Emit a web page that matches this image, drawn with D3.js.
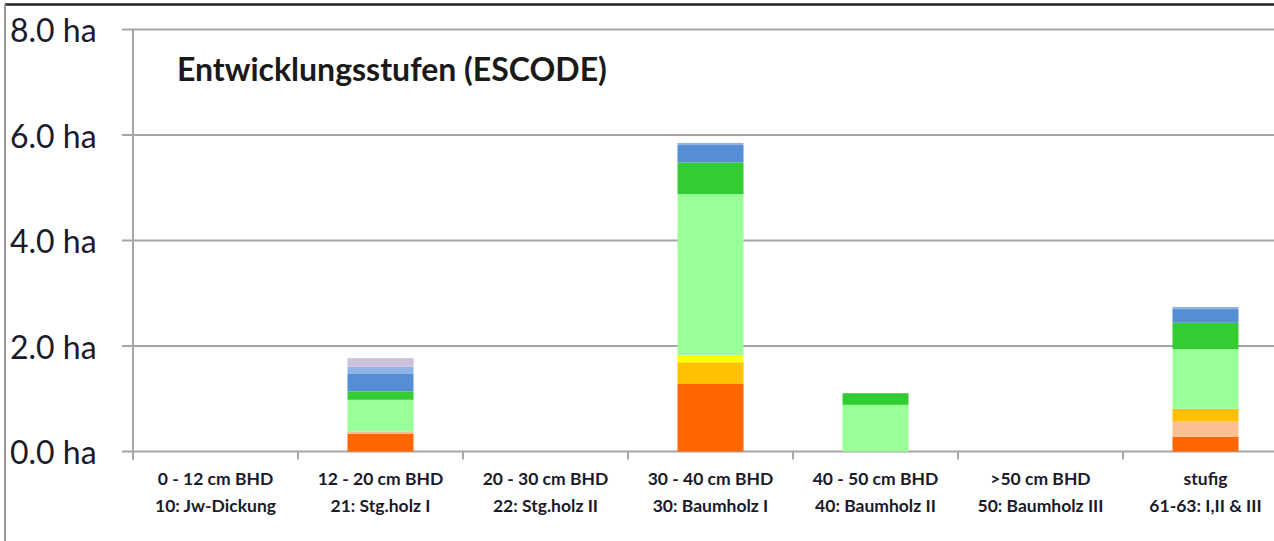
<!DOCTYPE html>
<html>
<head>
<meta charset="utf-8">
<script src="https://cdn.jsdelivr.net/npm/d3@7"></script>
<style>
  html, body { margin: 0; padding: 0; background: #fff; }
  svg { display: block; }
</style>
</head>
<body>
<svg id="chart" width="1274" height="541"></svg>
<script>
// ---- data ----
const categories = ["c10", "c21", "c22", "c30", "c40", "c50", "c61"];
const labelLine1 = ["0 - 12 cm BHD", "12 - 20 cm BHD", "20 - 30 cm BHD", "30 - 40 cm BHD", "40 - 50 cm BHD", ">50 cm BHD", "stufig"];
const labelLine2 = ["10: Jw-Dickung", "21: Stg.holz I", "22: Stg.holz II", "30: Baumholz I", "40: Baumholz II", "50: Baumholz III", "61-63: I,II & III"];
const seriesNames = ["S1", "S2", "S3", "S4", "S5", "S6", "S7", "S8", "S9"];
const seriesColors = ["#FF6600", "#FBBF94", "#FFC000", "#FFFF00", "#99FF99", "#33CC33", "#558ED5", "#8EB4E3", "#CCC0DA"];
const s1 = [0, 0.34, 0, 1.28, 0, 0, 0.28];
const s2 = [0, 0.04, 0, 0, 0, 0, 0.29];
const s3 = [0, 0, 0, 0.41, 0, 0, 0.24];
const s4 = [0, 0, 0, 0.14, 0, 0, 0];
const s5 = [0, 0.60, 0, 3.05, 0.885, 0, 1.13];
const s6 = [0, 0.16, 0, 0.60, 0.22, 0, 0.50];
const s7 = [0, 0.33, 0, 0.33, 0, 0, 0.26];
const s8 = [0, 0.14, 0, 0.04, 0, 0, 0.04];
const s9 = [0, 0.16, 0, 0, 0, 0, 0];
const yTicks = [0, 2, 4, 6, 8];
const title = "Entwicklungsstufen (ESCODE)";

const seriesValues = [s1, s2, s3, s4, s5, s6, s7, s8, s9];
const table = categories.map((c, i) => {
  const row = { cat: c };
  seriesNames.forEach((s, j) => row[s] = seriesValues[j][i]);
  return row;
});

const svg = d3.select("#chart");
const plotLeft = 133, plotTop = 29.5, plotBottom = 451.5;
const step = 165;

const x = d3.scaleBand().domain(categories).range([plotLeft, plotLeft + step * categories.length]).padding(0);
const y = d3.scaleLinear().domain([0, 8]).range([plotBottom, plotTop]);

// frame
svg.append("line").attr("x1", 5).attr("x2", 1274).attr("y1", 4.5).attr("y2", 4.5)
  .attr("stroke", "#222").attr("stroke-width", 2.5);
svg.append("line").attr("x1", 5).attr("x2", 5).attr("y1", 4).attr("y2", 541)
  .attr("stroke", "#9a9a9a").attr("stroke-width", 2);

// gridlines + y tick marks
svg.append("g").selectAll("line").data(yTicks).join("line")
  .attr("x1", plotLeft - 11).attr("x2", 1274)
  .attr("y1", d => y(d)).attr("y2", d => y(d))
  .attr("stroke", "#a6a6a6").attr("stroke-width", 2);

// y axis line
svg.append("line").attr("x1", plotLeft).attr("x2", plotLeft).attr("y1", y(8)).attr("y2", plotBottom + 8)
  .attr("stroke", "#a6a6a6").attr("stroke-width", 2);

// y labels
svg.append("g").selectAll("text").data(yTicks).join("text")
  .attr("x", 10).attr("y", d => Math.max(y(d), 24.5))
  .attr("dominant-baseline", "central")
  .attr("font-family", "Lato, 'Liberation Sans', sans-serif")
  .attr("font-size", 32).attr("fill", "#1a1a2a")
  .text(d => d.toFixed(1) + " ha");

// x tick marks at category boundaries
const bounds = categories.map(c => x(c)).concat([x(categories[categories.length - 1]) + x.bandwidth()]);
svg.append("g").selectAll("line").data(bounds).join("line")
  .attr("x1", d => d).attr("x2", d => d).attr("y1", plotBottom).attr("y2", plotBottom + 8)
  .attr("stroke", "#a6a6a6").attr("stroke-width", 2);

// stacked bars
const stack = d3.stack().keys(seriesNames);
const layers = stack(table);
const barW = x.bandwidth() * 0.4;
const gBars = svg.append("g");
layers.forEach((layer, j) => {
  gBars.append("g").attr("fill", seriesColors[j])
    .selectAll("rect").data(layer.filter(d => d[1] - d[0] > 0)).join("rect")
    .attr("x", d => x(d.data.cat) + (x.bandwidth() - barW) / 2)
    .attr("width", barW)
    .attr("y", d => y(d[1]))
    .attr("height", d => y(d[0]) - y(d[1]));
});

// category labels
const gx = svg.append("g")
  .attr("font-family", "Lato, 'Liberation Sans', sans-serif")
  .attr("font-weight", "bold").attr("font-size", 17.5).attr("fill", "#1a1a2a")
  .attr("text-anchor", "middle");
categories.forEach((c, i) => {
  const cx = x(c) + x.bandwidth() / 2;
  gx.append("text").attr("x", cx).attr("y", 485).text(labelLine1[i]);
  gx.append("text").attr("x", cx).attr("y", 512).text(labelLine2[i]);
});

// title
svg.append("text").attr("x", 177).attr("y", 81)
  .attr("font-family", "Lato, 'Liberation Sans', sans-serif")
  .attr("font-weight", "bold").attr("font-size", 32).attr("fill", "#1a1a1a")
  .text(title);
</script>
</body>
</html>
